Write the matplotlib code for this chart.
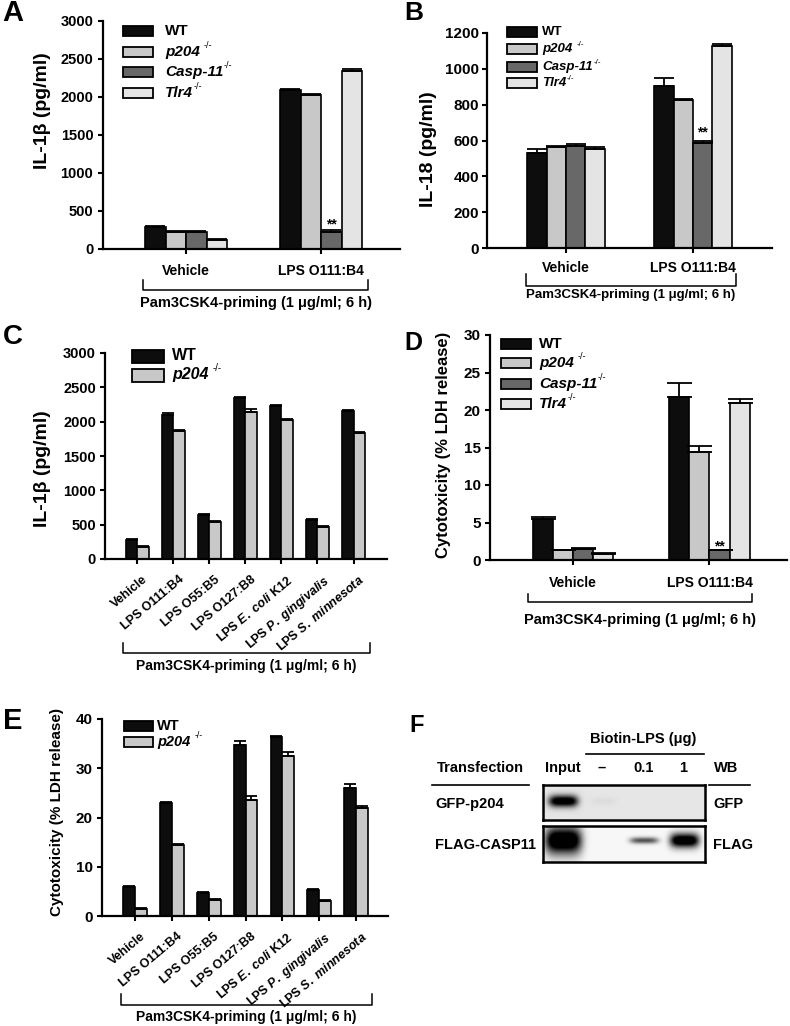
import numpy as np
import matplotlib
matplotlib.use("Agg")
import matplotlib.pyplot as plt
from matplotlib.patches import Rectangle
from matplotlib.transforms import ScaledTranslation, blended_transform_factory

plt.rcParams["font.family"] = ["Liberation Sans", "DejaVu Sans"]
plt.rcParams["font.weight"] = "bold"
plt.rcParams["mathtext.fontset"] = "custom"
plt.rcParams["mathtext.it"] = "Liberation Sans:italic:bold"
plt.rcParams["mathtext.rm"] = "Liberation Sans:bold"
plt.rcParams["mathtext.bf"] = "Liberation Sans:bold"

W, H = 790, 1026

# ---------------- data ----------------
GENO4 = ["WT", "p204", "Casp-11", "Tlr4"]
SUP4 = [None, "-/-", "-/-", "-/-"]
COLORS4 = ["#0d0d0d", "#c8c8c8", "#686868", "#e4e4e4"]
GROUPS2 = ["Vehicle", "LPS O111:B4"]
LPS_TYPES = ["Vehicle", "LPS O111:B4", "LPS O55:B5", "LPS O127:B8",
             r"LPS $\mathit{E.\ coli}$ K12", r"LPS $\mathit{P.\ gingivalis}$",
             r"LPS $\mathit{S.\ minnesota}$"]
PAM_LABEL = "Pam3CSK4-priming (1 \u03bcg/ml; 6 h)"

# A: IL-1b (pg/ml), rows = genotypes, cols = Vehicle, LPS
a_vals = [[290, 2090], [225, 2025], [225, 230], [125, 2340]]
a_err = [[12, 20], [8, 12], [8, 15], [6, 25]]
# B: IL-18 (pg/ml)
b_vals = [[530, 905], [565, 825], [572, 585], [555, 1130]]
b_err = [[25, 45], [4, 5], [6, 12], [8, 8]]
# C: IL-1b (pg/ml), WT vs p204
c_wt = [280, 2095, 640, 2345, 2225, 565, 2150]
c_p204 = [180, 1870, 535, 2135, 2025, 470, 1835]
c_wt_err = [15, 25, 20, 20, 20, 15, 15]
c_p204_err = [12, 10, 15, 55, 20, 10, 15]
# D: cytotoxicity (% LDH release)
d_vals = [[5.5, 21.8], [1.3, 14.4], [1.5, 1.3], [0.8, 21.0]]
d_err = [[0.2, 1.8], [0.1, 0.8], [0.15, 0.1], [0.1, 0.5]]
# E: cytotoxicity, WT vs p204
e_wt = [5.8, 22.9, 4.6, 34.8, 36.3, 5.3, 25.9]
e_p204 = [1.5, 14.5, 3.2, 23.6, 32.5, 3.0, 22.0]
e_wt_err = [0.2, 0.3, 0.2, 0.8, 0.2, 0.2, 0.9]
e_p204_err = [0.2, 0.2, 0.2, 0.7, 0.9, 0.2, 0.3]
# F: pull-down blot band strengths per lane
blot_lanes = ["Input", "\u2013", "0.1", "1"]
gfp_signal = [0.85, 0.03, 0.0, 0.0]
flag_signal = [1.0, 0.0, 0.5, 0.95]

fig = plt.figure(figsize=(W / 100, H / 100), dpi=100)


def px_axes(left, top, right, bottom):
    return fig.add_axes([left / W, 1 - bottom / H, (right - left) / W, (bottom - top) / H])


def fx(x):
    return x / W


def fy(y):
    return 1 - y / H


def style_axes(ax, tick_fs, ypad, xpad):
    for s in ["top", "right"]:
        ax.spines[s].set_visible(False)
    for s in ["left", "bottom"]:
        ax.spines[s].set_linewidth(1.6)
    ax.tick_params(axis="both", direction="out", length=3.5, width=1.5)
    ax.tick_params(axis="y", labelsize=tick_fs, pad=ypad)
    ax.tick_params(axis="x", pad=xpad)


def grouped_bars(ax, vals, errs, colors, width, capsize):
    n = len(vals)
    x = np.arange(len(vals[0]))
    pos = []
    for i, (v, e, c) in enumerate(zip(vals, errs, colors)):
        xi = x + (i - (n - 1) / 2) * width
        ax.bar(xi, v, width, color=c, edgecolor="black", linewidth=1.2, zorder=2)
        ax.errorbar(xi, v, yerr=[np.zeros(len(e)), e], fmt="none", ecolor="black",
                    elinewidth=1.3, capsize=capsize, capthick=1.3, zorder=3)
        pos.append(xi)
    return x, pos


def draw_legend(ax, x_px, ys_px, w, h, labels, sups, colors, fs, text_x):
    for y, lab, sup, c in zip(ys_px, labels, sups, colors):
        fig.add_artist(Rectangle((fx(x_px), fy(y + h / 2)), w / W, h / H,
                                 transform=fig.transFigure, facecolor=c,
                                 edgecolor="black", linewidth=1.3))
        style = "normal" if lab == "WT" else "italic"
        t = fig.text(fx(text_x), fy(y), lab, fontsize=fs, fontstyle=style,
                     fontweight="bold", ha="left", va="center")
        if sup:
            gap = 3 if lab == "p204" else 0.5
            ax.annotate(sup, xy=(1, 0.62), xycoords=t, xytext=(gap, 0),
                        textcoords="offset points", ha="left", va="bottom",
                        fontsize=fs * 0.6, fontweight="normal", annotation_clip=False)


def bracket(ax, xl, xr, y_top, y_bot, text_y, fs):
    tr = blended_transform_factory(ax.transData, ax.transAxes)
    ax.plot([xl, xl, xr, xr], [y_top, y_bot, y_bot, y_top], transform=tr,
            color="black", lw=1.1, clip_on=False)
    ax.text((xl + xr) / 2, text_y, PAM_LABEL, transform=tr, ha="center",
            va="center", fontsize=fs)


def ylab(ax, text, x, y, fs):
    ax.text(x, y, text, transform=ax.transAxes, rotation=90, ha="center",
            va="center", fontsize=fs)


def stars(ax, x, top, off):
    ax.annotate("**", xy=(x, top), xytext=(0, off), textcoords="offset points",
                ha="center", va="center", fontsize=10)


def rotated_ticks(ax, labels, fs):
    ax.set_xticks(np.arange(len(labels)))
    ax.set_xticklabels(labels, rotation=40, ha="right", va="top",
                       rotation_mode="anchor", fontsize=fs)
    shift = ScaledTranslation(5 / 100, 0, fig.dpi_scale_trans)
    for lb in ax.get_xticklabels():
        lb.set_transform(lb.get_transform() + shift)


# ---------------- A ----------------
axA = px_axes(103, 21, 400, 249)
x, pos = grouped_bars(axA, a_vals, a_err, COLORS4, 0.152, 7)
axA.set_xlim(-0.615, 1.585)
axA.set_ylim(0, 3000)
axA.set_yticks(np.arange(0, 3001, 500))
axA.set_xticks(x, GROUPS2, fontsize=10)
style_axes(axA, 10.5, 3.5, 7)
ylab(axA, "IL-1\u03b2 (pg/ml)", -0.205, 0.605, 14)
stars(axA, pos[2][1], a_vals[2][1] + a_err[2][1], 4)
draw_legend(axA, 123, [31, 52, 72, 93], 30, 10, GENO4, SUP4, COLORS4, 11, 165)
bracket(axA, -0.32, 1.35, -0.136, -0.18, -0.237, 10.5)

# ---------------- B ----------------
axB = px_axes(487, 33, 772, 248)
x, pos = grouped_bars(axB, b_vals, b_err, COLORS4, 0.152, 7)
axB.set_xlim(-0.62, 1.62)
axB.set_ylim(0, 1200)
axB.set_yticks(np.arange(0, 1201, 200))
axB.set_xticks(x, GROUPS2, fontsize=10)
style_axes(axB, 11, 2, 6)
ylab(axB, "IL-18 (pg/ml)", -0.204, 0.46, 14)
stars(axB, pos[2][1], b_vals[2][1] + b_err[2][1], 6.5)
draw_legend(axB, 507, [32, 49, 67, 83], 30, 9, GENO4, SUP4, COLORS4, 9.5, 542)
bracket(axB, -0.315, 1.339, -0.121, -0.177, -0.219, 9.5)

# ---------------- C ----------------
axC = px_axes(105, 353, 387, 559)
grouped_bars(axC, [c_wt, c_p204], [c_wt_err, c_p204_err], COLORS4[:2], 0.32, 4)
axC.set_xlim(-0.9, 6.93)
axC.set_ylim(0, 3000)
axC.set_yticks(np.arange(0, 3001, 500))
style_axes(axC, 10.5, 3, 7)
rotated_ticks(axC, LPS_TYPES, 9)
ylab(axC, "IL-1\u03b2 (pg/ml)", -0.22, 0.437, 14)
draw_legend(axC, 132, [356, 375], 32, 13, GENO4[:2], SUP4[:2], COLORS4[:2], 11.5, 172)
bracket(axC, -0.4, 6.46, -0.408, -0.456, -0.519, 10)

# ---------------- D ----------------
axD = px_axes(490, 335, 787, 560)
x, pos = grouped_bars(axD, d_vals, d_err, COLORS4, 0.147, 9)
axD.set_xlim(-0.608, 1.568)
axD.set_ylim(0, 30)
axD.set_yticks(np.arange(0, 31, 5))
axD.set_xticks(x, GROUPS2, fontsize=10)
style_axes(axD, 11, 3, 8)
ylab(axD, "Cytotoxicity (% LDH release)", -0.158, 0.51, 12)
stars(axD, pos[2][1], d_vals[2][1] + d_err[2][1], 2.5)
draw_legend(axD, 501, [344, 363, 384, 404], 30, 10, GENO4, SUP4, COLORS4, 11, 539)
bracket(axD, -0.33, 1.311, -0.151, -0.187, -0.267, 10.5)

# ---------------- E ----------------
axE = px_axes(102, 719, 388, 916)
grouped_bars(axE, [e_wt, e_p204], [e_wt_err, e_p204_err], COLORS4[:2], 0.32, 4)
axE.set_xlim(-0.9, 6.87)
axE.set_ylim(0, 40)
axE.set_yticks(np.arange(0, 41, 10))
style_axes(axE, 11, 3, 7)
rotated_ticks(axE, LPS_TYPES, 9)
ylab(axE, "Cytotoxicity (% LDH release)", -0.157, 0.528, 11)
draw_legend(axE, 124, [726, 742], 29, 10, GENO4[:2], SUP4[:2], COLORS4[:2], 10.5, 157)
bracket(axE, -0.38, 6.44, -0.396, -0.452, -0.513, 10)


# ---------------- F (blot) ----------------
def blot_image(signal, bg, band_w, band_h, yc):
    xs = np.linspace(0, 4, 324)
    ys = np.linspace(0, 1, 72)
    X, Y = np.meshgrid(xs, ys)
    img = np.full_like(X, bg)
    for i, s in enumerate(signal):
        img -= 1.3 * s * np.exp(-((X - (i + 0.5)) / band_w[i]) ** 4
                                - ((Y - yc) / band_h[i]) ** 2)
    return np.clip(img, 0, 1)


rows = [
    (785, 820, gfp_signal, 0.90, [0.36, 0.3, 0.3, 0.3], [0.17, 0.1, 0.1, 0.1], 0.46),
    (826, 862, flag_signal, 0.97, [0.45, 0.3, 0.35, 0.36], [0.38, 0.1, 0.09, 0.2], 0.40),
]
for top, bot, sig, bg, bw, bh, yc in rows:
    axb = px_axes(543, top, 705, bot)
    axb.imshow(blot_image(sig, bg, bw, bh, yc), cmap="gray", vmin=0, vmax=1,
               extent=[0, 4, 1, 0], aspect="auto", interpolation="bilinear")
    axb.set_xticks([])
    axb.set_yticks([])
    for s in axb.spines.values():
        s.set_linewidth(1.8)

fig.text(fx(643), fy(739), "Biotin-LPS (\u03bcg)", fontsize=10.5, ha="center", va="center")
fig.add_artist(plt.Line2D([fx(586), fx(704)], [fy(754), fy(754)], color="black", lw=1.2))
fig.text(fx(480), fy(768), "Transfection", fontsize=10.5, ha="center", va="center")
fig.add_artist(plt.Line2D([fx(432), fx(529)], [fy(785), fy(785)], color="black", lw=1.2))
fig.text(fx(726), fy(768), "WB", fontsize=10.5, ha="center", va="center")
fig.add_artist(plt.Line2D([fx(709), fx(750)], [fy(785), fy(785)], color="black", lw=1.2))
for lab, xc in zip(blot_lanes, [563, 602, 644, 683]):
    fig.text(fx(xc), fy(768), lab, fontsize=10.5, ha="center", va="center")
fig.text(fx(435), fy(804), "GFP-p204", fontsize=10.5, ha="left", va="center")
fig.text(fx(435), fy(845), "FLAG-CASP11", fontsize=10.5, ha="left", va="center")
fig.text(fx(713), fy(804), "GFP", fontsize=10.5, ha="left", va="center")
fig.text(fx(713), fy(845), "FLAG", fontsize=10.5, ha="left", va="center")

# panel letters
for lab, xc, yc, fs in [("A", 13, 13, 21), ("B", 414, 13, 19), ("C", 13, 337, 20),
                        ("D", 413, 343, 18), ("E", 13, 721, 21), ("F", 417, 725, 17)]:
    fig.text(fx(xc), fy(yc), lab, fontsize=fs, fontweight="bold", ha="center", va="center")

fig.savefig("out.png", dpi=100, facecolor="white")
